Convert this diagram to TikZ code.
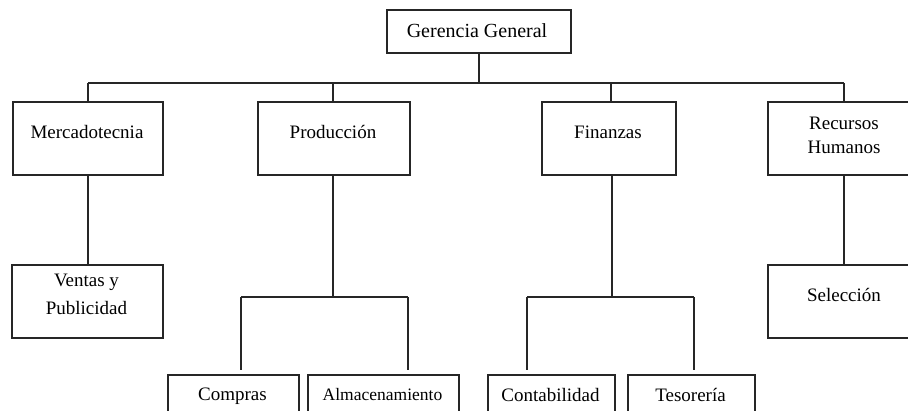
\documentclass[tikz,border=0pt]{standalone}
\usepackage{fontspec}
\setmainfont{Liberation Serif}
\usetikzlibrary{calc}
\begin{document}
\begin{tikzpicture}[x=1pt,y=-1pt,
  box/.style={draw=black!85,line width=1.6pt,rectangle,inner sep=0pt,anchor=north west},
  lbl/.style={font=\fontsize{19}{24}\selectfont,align=center,inner sep=0pt,text=black},
  wire/.style={draw=black!85,line width=1.6pt}]
\useasboundingbox (0,0) rectangle (908,410);
\fill[white] (0,0) rectangle (908,410);
\clip (0,0) rectangle (908,410);

% top level
\node[box,minimum width=184,minimum height=43] (gg) at (386,9) {};
\node[lbl,font=\fontsize{20}{24}\selectfont] (ggt) at (477,31) {Gerencia General};

% departments
\node[box,minimum width=150,minimum height=73] (merc) at (12,101) {};
\node[lbl] (merct) at (87,132) {Mercadotecnia};
\node[box,minimum width=152,minimum height=73] (prod) at (257,101) {};
\node[lbl] (prodt) at (333,132) {Producción};
\node[box,minimum width=134,minimum height=73] (fin) at (541,101) {};
\node[lbl] (fint) at (608,132) {Finanzas};
\node[box,minimum width=154,minimum height=73] (rrhh) at (767,101) {};
\node[lbl] (rrhht) at (844,135) {Recursos\\Humanos};

% second level
\node[box,minimum width=151,minimum height=73] (vent) at (11,264) {};
\node[lbl,font=\fontsize{19}{28}\selectfont] (ventt) at (86.5,294) {Ventas y\\Publicidad};
\node[box,minimum width=154,minimum height=73] (sel) at (767,264) {};
\node[lbl] (selt) at (844,295) {Selección};

% third level
\node[box,minimum width=131,minimum height=73] (comp) at (167,374) {};
\node[lbl] (compt) at (232.5,396) {Compras};
\node[box,minimum width=151,minimum height=73] (alm) at (307,374) {};
\node[lbl,font=\fontsize{17.5}{24}\selectfont] (almt) at (382.5,395) {Almacenamiento};
\node[box,minimum width=127,minimum height=73] (cont) at (487,374) {};
\node[lbl] (contt) at (550.5,395) {Contabilidad};
\node[box,minimum width=127,minimum height=73] (tes) at (627,374) {};
\node[lbl] (test) at (690.5,395) {Tesorería};

% junction points
\coordinate (bl) at (88,83);
\coordinate (br) at (844,83);
\coordinate (bp) at (333,83);
\coordinate (bf) at (611,83);
\coordinate (pj) at (333,297);
\coordinate (pl) at (241,297);
\coordinate (pr) at (408,297);
\coordinate (fj) at (612,297);
\coordinate (fl) at (527,297);
\coordinate (fr) at (694,297);

% main bar
\draw[wire] (gg.south) -- (gg.south |- bl);
\draw[wire] (bl) -- (br);
\draw[wire] (bl) -- (bl |- merc.north);
\draw[wire] (bp) -- (bp |- prod.north);
\draw[wire] (bf) -- (bf |- fin.north);
\draw[wire] (br) -- (br |- rrhh.north);

% department branches
\draw[wire] (bl |- merc.south) -- (bl |- vent.north);
\draw[wire] (br |- rrhh.south) -- (br |- sel.north);

\draw[wire] (pj |- prod.south) -- (pj);
\draw[wire] (pl) -- (pr);
\draw[wire] (pl) -- ($(pl |- comp.north)+(0,-4)$);
\draw[wire] (pr) -- ($(pr |- alm.north)+(0,-4)$);

\draw[wire] (fj |- fin.south) -- (fj);
\draw[wire] (fl) -- (fr);
\draw[wire] (fl) -- ($(fl |- cont.north)+(0,-4)$);
\draw[wire] (fr) -- ($(fr |- tes.north)+(0,-4)$);
\end{tikzpicture}
\end{document}
